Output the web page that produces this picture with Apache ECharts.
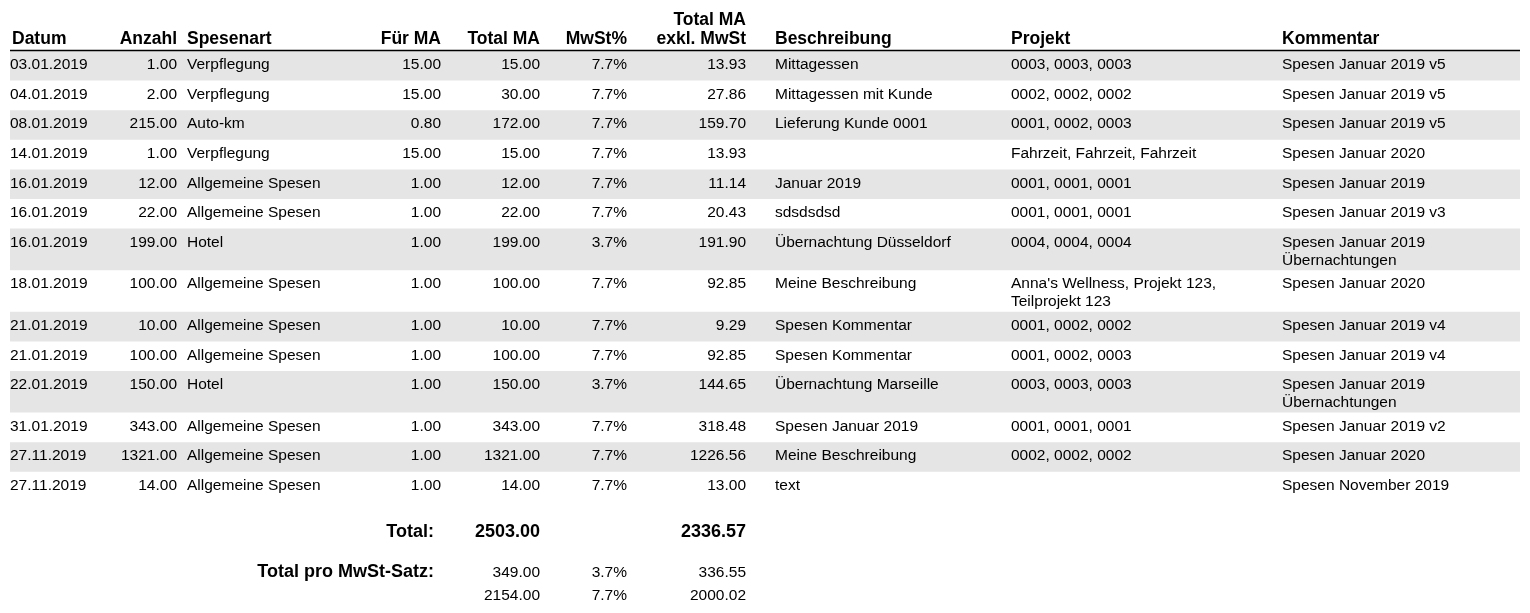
<!DOCTYPE html>
<html>
<head>
<meta charset="utf-8">
<script src="https://cdn.jsdelivr.net/npm/echarts@6/dist/echarts.min.js"></script>
<style>
html,body{margin:0;padding:0;background:#fff;}
#chart{width:1530px;height:613px;}
</style>
</head>
<body>
<div id="chart"></div>
<script>
// ---- data ----
const headers = ['Datum', 'Anzahl', 'Spesenart', 'Für MA', 'Total MA', 'MwSt%', 'Total MA\nexkl. MwSt', 'Beschreibung', 'Projekt', 'Kommentar'];
const datum = ['03.01.2019', '04.01.2019', '08.01.2019', '14.01.2019', '16.01.2019', '16.01.2019', '16.01.2019', '18.01.2019', '21.01.2019', '21.01.2019', '22.01.2019', '31.01.2019', '27.11.2019', '27.11.2019'];
const anzahl = [1.00, 2.00, 215.00, 1.00, 12.00, 22.00, 199.00, 100.00, 10.00, 100.00, 150.00, 343.00, 1321.00, 14.00];
const spesenart = ['Verpflegung', 'Verpflegung', 'Auto-km', 'Verpflegung', 'Allgemeine Spesen', 'Allgemeine Spesen', 'Hotel', 'Allgemeine Spesen', 'Allgemeine Spesen', 'Allgemeine Spesen', 'Hotel', 'Allgemeine Spesen', 'Allgemeine Spesen', 'Allgemeine Spesen'];
const fuerMA = [15.00, 15.00, 0.80, 15.00, 1.00, 1.00, 1.00, 1.00, 1.00, 1.00, 1.00, 1.00, 1.00, 1.00];
const totalMA = [15.00, 30.00, 172.00, 15.00, 12.00, 22.00, 199.00, 100.00, 10.00, 100.00, 150.00, 343.00, 1321.00, 14.00];
const mwstPct = [7.7, 7.7, 7.7, 7.7, 7.7, 7.7, 3.7, 7.7, 7.7, 7.7, 3.7, 7.7, 7.7, 7.7];
const exklMwSt = [13.93, 27.86, 159.70, 13.93, 11.14, 20.43, 191.90, 92.85, 9.29, 92.85, 144.65, 318.48, 1226.56, 13.00];
const beschreibung = ['Mittagessen', 'Mittagessen mit Kunde', 'Lieferung Kunde 0001', '', 'Januar 2019', 'sdsdsdsd', 'Übernachtung Düsseldorf', 'Meine Beschreibung', 'Spesen Kommentar', 'Spesen Kommentar', 'Übernachtung Marseille', 'Spesen Januar 2019', 'Meine Beschreibung', 'text'];
const projekt = ['0003, 0003, 0003', '0002, 0002, 0002', '0001, 0002, 0003', 'Fahrzeit, Fahrzeit, Fahrzeit', '0001, 0001, 0001', '0001, 0001, 0001', '0004, 0004, 0004', "Anna's Wellness, Projekt 123,\nTeilprojekt 123", '0001, 0002, 0002', '0001, 0002, 0003', '0003, 0003, 0003', '0001, 0001, 0001', '0002, 0002, 0002', ''];
const kommentar = ['Spesen Januar 2019 v5', 'Spesen Januar 2019 v5', 'Spesen Januar 2019 v5', 'Spesen Januar 2020', 'Spesen Januar 2019', 'Spesen Januar 2019 v3', 'Spesen Januar 2019\nÜbernachtungen', 'Spesen Januar 2020', 'Spesen Januar 2019 v4', 'Spesen Januar 2019 v4', 'Spesen Januar 2019\nÜbernachtungen', 'Spesen Januar 2019 v2', 'Spesen Januar 2020', 'Spesen November 2019'];

const totalLabel = 'Total:';
const totalSumMA = 2503.00;
const totalSumExkl = 2336.57;
const rateLabel = 'Total pro MwSt-Satz:';
const rateValues = [3.7, 7.7];
const rateTotalMA = [349.00, 2154.00];
const rateExkl = [336.55, 2000.02];

// ---- layout / styling ----
const FONT = '"Liberation Sans", Arial, Helvetica, sans-serif';
const BODY_SIZE = 15.5, HEAD_SIZE = 17.5, TOTAL_SIZE = 18;
const LINE_H = 18;
const TABLE_LEFT = 10, TABLE_RIGHT = 1520;
const HEAD_LINE_Y = 50.5;
const BODY_TOP = 51;
const ROW_H = 29.6, EXTRA_LINE_H = 12;
const STRIPE = '#e5e5e5';

const cols = [
  { x: 10, align: 'left', hx: 12, get: i => datum[i] },
  { x: 177, align: 'right', get: i => anzahl[i].toFixed(2) },
  { x: 187, align: 'left', get: i => spesenart[i] },
  { x: 441, align: 'right', get: i => fuerMA[i].toFixed(2) },
  { x: 540, align: 'right', get: i => totalMA[i].toFixed(2) },
  { x: 627, align: 'right', get: i => mwstPct[i].toFixed(1) + '%' },
  { x: 746, align: 'right', get: i => exklMwSt[i].toFixed(2) },
  { x: 775, align: 'left', get: i => beschreibung[i] },
  { x: 1011, align: 'left', get: i => projekt[i] },
  { x: 1282, align: 'left', get: i => kommentar[i] }
];

const nRows = datum.length;
const rowLines = [];
for (let i = 0; i < nRows; i++) {
  let m = 1;
  cols.forEach(c => { m = Math.max(m, String(c.get(i)).split('\n').length); });
  rowLines.push(m);
}
const rowTop = [], rowHeight = [];
let acc = BODY_TOP;
for (let i = 0; i < nRows; i++) {
  rowTop.push(acc);
  const h = ROW_H + (rowLines[i] - 1) * EXTRA_LINE_H;
  rowHeight.push(h);
  acc += h;
}
const bodyEnd = acc;

function txt(api, x, y, text, align, vAlign, size, weight, lh) {
  const p = api.coord([x, y]);
  return {
    type: 'text',
    style: {
      text: text, x: p[0], y: p[1],
      align: align, verticalAlign: vAlign,
      fill: '#000', fontSize: size, fontFamily: FONT, fontWeight: weight,
      lineHeight: lh
    }
  };
}

const chart = echarts.init(document.getElementById('chart'), null, { renderer: 'canvas' });
chart.setOption({
  animation: false,
  backgroundColor: '#fff',
  grid: { left: 0, right: 0, top: 0, bottom: 0 },
  xAxis: { type: 'value', min: 0, max: 1530, show: false },
  yAxis: { type: 'value', min: 0, max: 613, inverse: true, show: false },
  series: [
    {
      // body rows
      type: 'custom', coordinateSystem: 'cartesian2d', clip: false,
      data: datum.map((d, i) => [i]),
      renderItem: function (params, api) {
        const i = params.dataIndex;
        const children = [];
        if (i % 2 === 0) {
          const a = api.coord([TABLE_LEFT, rowTop[i]]);
          const b = api.coord([TABLE_RIGHT, rowTop[i] + rowHeight[i]]);
          children.push({ type: 'rect', shape: { x: a[0], y: a[1], width: b[0] - a[0], height: b[1] - a[1] }, style: { fill: STRIPE } });
        }
        cols.forEach(c => {
          const t = c.get(i);
          if (t !== '') children.push(txt(api, c.x, rowTop[i] + 5, t, c.align, 'top', BODY_SIZE, 'normal', LINE_H));
        });
        return { type: 'group', children: children };
      }
    },
    {
      // header
      type: 'custom', coordinateSystem: 'cartesian2d', clip: false,
      data: [[0]],
      renderItem: function (params, api) {
        const children = [];
        headers.forEach((h, k) => {
          const c = cols[k];
          children.push(txt(api, c.hx || c.x, HEAD_LINE_Y - 1.5, h, c.align, 'bottom', HEAD_SIZE, 'bold', 19));
        });
        const a = api.coord([TABLE_LEFT, HEAD_LINE_Y]);
        const b = api.coord([TABLE_RIGHT, HEAD_LINE_Y]);
        children.push({ type: 'line', shape: { x1: a[0], y1: a[1], x2: b[0], y2: b[1] }, style: { stroke: '#000', lineWidth: 1.5 } });
        return { type: 'group', children: children };
      }
    },
    {
      // totals
      type: 'custom', coordinateSystem: 'cartesian2d', clip: false,
      data: [[0]],
      renderItem: function (params, api) {
        const children = [];
        const yT = bodyEnd + 31;
        children.push(txt(api, 434, yT, totalLabel, 'right', 'middle', TOTAL_SIZE, 'bold', 20));
        children.push(txt(api, cols[4].x, yT, totalSumMA.toFixed(2), 'right', 'middle', TOTAL_SIZE, 'bold', 20));
        children.push(txt(api, cols[6].x, yT, totalSumExkl.toFixed(2), 'right', 'middle', TOTAL_SIZE, 'bold', 20));
        const yR = bodyEnd + 71;
        children.push(txt(api, 434, yR, rateLabel, 'right', 'middle', TOTAL_SIZE, 'bold', 20));
        rateValues.forEach((r, k) => {
          const y = yR + k * 23;
          children.push(txt(api, cols[4].x, y, rateTotalMA[k].toFixed(2), 'right', 'middle', BODY_SIZE, 'normal', LINE_H));
          children.push(txt(api, cols[5].x, y, r.toFixed(1) + '%', 'right', 'middle', BODY_SIZE, 'normal', LINE_H));
          children.push(txt(api, cols[6].x, y, rateExkl[k].toFixed(2), 'right', 'middle', BODY_SIZE, 'normal', LINE_H));
        });
        return { type: 'group', children: children };
      }
    }
  ]
});
</script>
</body>
</html>
